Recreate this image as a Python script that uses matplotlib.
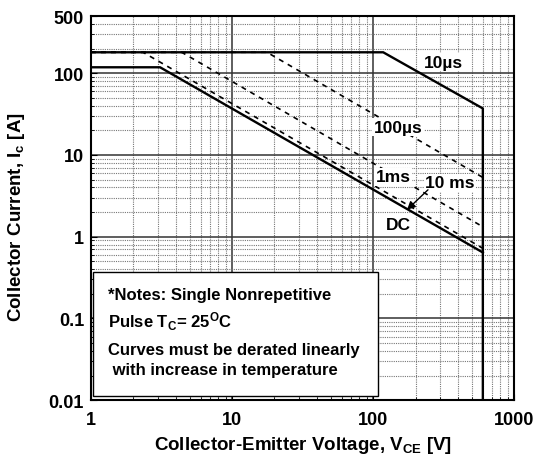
import matplotlib
matplotlib.use('Agg')
import matplotlib.pyplot as plt
from matplotlib.patches import Rectangle

plt.rcParams['font.family'] = ['Liberation Sans', 'DejaVu Sans']
plt.rcParams['font.weight'] = 'bold'
plt.rcParams['mathtext.fontset'] = 'custom'
plt.rcParams['mathtext.rm'] = 'Liberation Sans:bold'
plt.rcParams['mathtext.it'] = 'Liberation Sans:bold'
plt.rcParams['mathtext.bf'] = 'Liberation Sans:bold'
plt.rcParams['mathtext.default'] = 'rm'

# safe operating area curves (V, A)
v_10us = [1, 118, 600, 600]
i_10us = [180, 180, 37, 0.01]

v_100us = [1, 17.7, 600]
i_100us = [180, 180, 5.3]

v_1ms = [1, 4.4, 600]
i_1ms = [180, 180, 1.32]

v_10ms = [1, 2.34, 600]
i_10ms = [180, 180, 0.72]

v_dc = [1, 3.09, 600]
i_dc = [118, 118, 0.64]

curve_labels = ['10µs', '100µs', '1ms', '10 ms', 'DC']
label_v = [313, 150, 139, 352, 150]
label_i = [136, 21.9, 5.4, 4.56, 1.40]

yticks = [0.01, 0.1, 1, 10, 100, 500]
ytick_labels = ['0.01', '0.1', '1', '10', '100', '500']
xticks = [1, 10, 100, 1000]
xtick_labels = ['1', '10', '100', '1000']

notes = ['*Notes: Single Nonrepetitive',
         r'Pulse T$_\mathrm{C}$= 25$^\mathrm{O}$C',
         'Curves must be derated linearly',
         ' with increase in temperature']

fig = plt.figure(figsize=(5.35, 4.6), dpi=100)
ax = fig.add_axes([0.170, 0.128, 0.791, 0.835])
ax.set_xscale('log')
ax.set_yscale('log')
ax.set_xlim(1, 1000)
ax.set_ylim(0.01, 500)

ax.set_axisbelow(True)
ax.grid(True, which='major', color='#333333', lw=1.1, ls='-')
ax.grid(True, which='minor', color='#777777', lw=0.8, ls=(0, (1, 1)))

ax.plot(v_10us, i_10us, color='black', lw=1.7)
ax.plot(v_100us, i_100us, color='black', lw=1.2, ls=(0, (3, 3)))
ax.plot(v_1ms, i_1ms, color='black', lw=1.2, ls=(0, (3, 3)))
ax.plot(v_10ms, i_10ms, color='black', lw=1.2, ls=(0, (3, 3)))
ax.plot(v_dc, i_dc, color='black', lw=1.7)

for lab, lv, li in zip(curve_labels, label_v, label_i):
    ax.text(lv, li, lab, fontsize=12.5, fontweight='bold', ha='center', va='center',
            bbox=dict(facecolor='white', edgecolor='none', pad=1))

ax.annotate('', xy=(174, 2.13), xytext=(245, 3.74),
            arrowprops=dict(arrowstyle='-|>', color='black', lw=1.0,
                            mutation_scale=12, shrinkA=0, shrinkB=0))

ax.add_patch(Rectangle((0.005, 0.01), 0.673, 0.323, transform=ax.transAxes,
                       facecolor='white', edgecolor='black', lw=1.0, zorder=5))
note_y = [0.276, 0.206, 0.133, 0.081]
for txt, ny in zip(notes, note_y):
    ax.text(0.040, ny, txt, transform=ax.transAxes, fontsize=12,
            fontweight='bold', va='center', ha='left', zorder=6)

ax.set_xticks(xticks)
ax.set_xticklabels(xtick_labels)
ax.set_yticks(yticks)
ax.set_yticklabels(ytick_labels)
ax.tick_params(which='both', direction='in', labelsize=13)
ax.tick_params(which='major', length=4)
ax.tick_params(which='minor', length=2)
ax.tick_params(axis='x', pad=8)
ax.tick_params(axis='y', pad=5)
for s in ax.spines.values():
    s.set_linewidth(1.5)

ax.set_xlabel(r'Collector-Emitter Voltage, V$_\mathrm{CE}$ [V]', fontsize=13.5,
              fontweight='bold')
ax.set_ylabel(r'Collector Current, I$_\mathrm{c}$ [A]', fontsize=13.5,
              fontweight='bold')
ax.xaxis.set_label_coords(0.5, -0.087)
ax.yaxis.set_label_coords(-0.150, 0.48)

fig.savefig('out.png', dpi=100)
